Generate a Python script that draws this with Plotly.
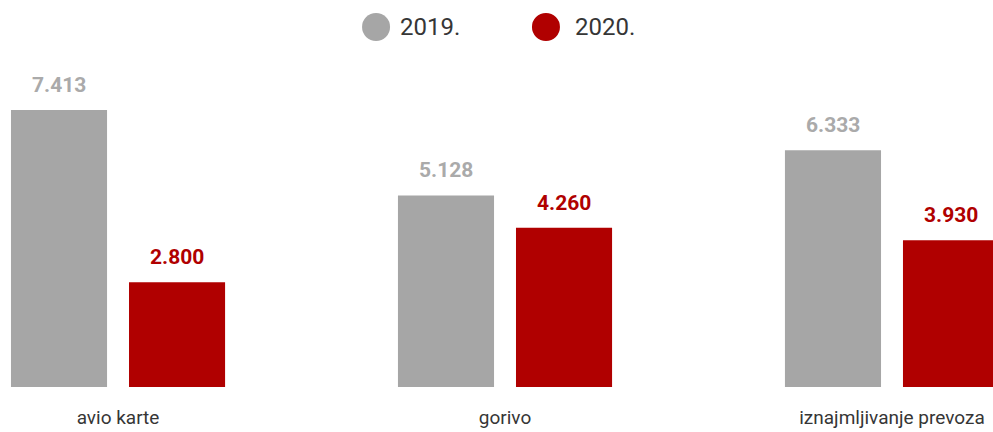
import plotly.graph_objects as go

# podaci
categories = ['avio karte', 'gorivo', 'iznajmljivanje prevoza']
years = ['2019.', '2020.']
values_2019 = [7413, 5128, 6333]
values_2020 = [2800, 4260, 3930]
labels_2019 = ['7.413', '5.128', '6.333']
labels_2020 = ['2.800', '4.260', '3.930']

GRAY = '#a6a6a6'
RED = '#b00000'
TEXT = '#363636'
FONT = 'Roboto, Liberation Sans, sans-serif'

fig = go.Figure()
for name, vals, color in [(years[0], values_2019, GRAY), (years[1], values_2020, RED)]:
    fig.add_trace(go.Bar(
        x=categories, y=vals, name=name,
        marker=dict(color=color, line=dict(width=0)),
        showlegend=False,
        hoverinfo='skip',
    ))

# oznake vrijednosti iznad stupaca
annotations = []
for i, cat in enumerate(categories):
    for off, val, lab, col in [(-0.1525, values_2019[i], labels_2019[i], '#aaaaaa'),
                               (0.1525, values_2020[i], labels_2020[i], RED)]:
        annotations.append(dict(
            x=i + off, y=val, xref='x', yref='y',
            text=f'<b>{lab}</b>', showarrow=False,
            yanchor='bottom', yshift=11,
            font=dict(family=FONT, size=21, color=col),
        ))

# legenda (ručno, veliki krugovi)
shapes = []
for cx, tx, color, name in [(0.3787, 0.4008, GRAY, years[0]), (0.5498, 0.577, RED, years[1])]:
    shapes.append(dict(
        type='circle', xref='paper', yref='paper',
        xsizemode='pixel', ysizemode='pixel',
        xanchor=cx, yanchor=1.0375,
        x0=-14, x1=14, y0=-14, y1=14,
        fillcolor=color, line=dict(width=0),
    ))
    annotations.append(dict(
        x=tx, y=1.0375, xref='paper', yref='paper',
        text=name, showarrow=False, xanchor='left', yanchor='middle',
        font=dict(family=FONT, size=24, color=TEXT),
    ))

fig.update_layout(
    width=993, height=432,
    margin=dict(l=0, r=0, t=40, b=45),
    paper_bgcolor='white', plot_bgcolor='white',
    barmode='group', bargap=0.39, bargroupgap=0.186,
    font=dict(family=FONT, color=TEXT),
    xaxis=dict(
        range=[-0.305, 2.261], showgrid=False, showline=False, zeroline=False,
        ticks='', tickfont=dict(family=FONT, size=19, color=TEXT),
        ticklabelstandoff=17,
    ),
    yaxis=dict(range=[0, 9286], visible=False),
    annotations=annotations,
    shapes=shapes,
)

fig.write_html('out.html', config={'displayModeBar': False},
               post_script="document.body.style.margin='0px';")
